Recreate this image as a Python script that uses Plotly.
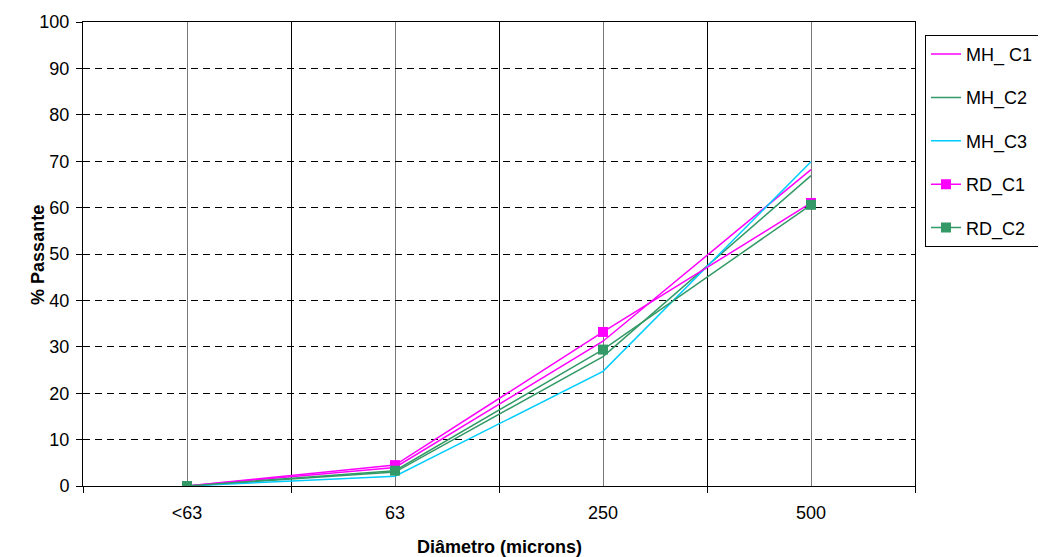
import plotly.graph_objects as go

categories = ["<63", "63", "250", "500"]
series_names = ["MH_ C1", "MH_C2", "MH_C3", "RD_C1", "RD_C2"]
mh_c1 = [0, 4.0, 31.2, 68.2]
mh_c2 = [0, 3.0, 27.9, 66.9]
mh_c3 = [0, 2.1, 24.7, 69.9]
rd_c1 = [0, 4.5, 33.2, 61.0]
rd_c2 = [0, 3.3, 29.4, 60.6]
y_ticks = list(range(0, 101, 10))
x_title = "Diâmetro (microns)"
y_title = "% Passante"

colors = ["#FF00FF", "#339966", "#00CCFF", "#FF00FF", "#339966"]
markers = [False, False, False, True, True]
values = [mh_c1, mh_c2, mh_c3, rd_c1, rd_c2]

xpos = list(range(len(categories)))
fig = go.Figure()
for i, (name, vals) in enumerate(zip(series_names, values)):
    fig.add_trace(go.Scatter(
        x=xpos, y=vals, name=name, legendgroup=name,
        mode="lines+markers" if markers[i] else "lines",
        line=dict(color=colors[i], width=1.5),
        marker=dict(symbol="square", size=10, color=colors[i]) if markers[i] else None,
    ))

font_family = "Liberation Sans, Arial, sans-serif"
fig.update_layout(
    width=1046, height=557,
    margin=dict(l=75, r=139, t=14, b=79),
    paper_bgcolor="white", plot_bgcolor="white",
    font=dict(family=font_family, size=18, color="black"),
    showlegend=True,
    legend=dict(
        x=1.0120, y=0.9724, xanchor="left", yanchor="top",
        bordercolor="black", borderwidth=1, bgcolor="white",
        font=dict(size=18), tracegroupgap=17, itemwidth=30,
        traceorder="grouped",
    ),
    annotations=[
        dict(text="<b>" + x_title + "</b>", xref="paper", yref="paper",
             x=0.5, y=-0.1315, xanchor="center", yanchor="middle",
             showarrow=False, font=dict(size=18)),
        dict(text="<b>" + y_title + "</b>", xref="paper", yref="paper",
             x=-0.0541, y=0.498, xanchor="center", yanchor="middle",
             textangle=-90, showarrow=False, font=dict(size=18)),
    ],
)
fig.update_xaxes(
    automargin=False,
    range=[-0.5, len(categories) - 0.5],
    tickmode="array", tickvals=xpos, ticktext=categories,
    ticks="", showgrid=True, gridcolor="#777777", gridwidth=1,
    showline=True, linecolor="black", linewidth=1, mirror=True,
    zeroline=False, ticklabelstandoff=10,
    minor=dict(tickvals=[v - 0.5 for v in range(len(categories) + 1)],
               ticks="outside", ticklen=6, tickcolor="black",
               showgrid=True, gridcolor="black", gridwidth=1),
    tickfont=dict(size=18),
)
fig.update_yaxes(
    automargin=False,
    range=[0, 100], tickmode="array", tickvals=y_ticks,
    ticks="outside", ticklen=6, tickcolor="black",
    showgrid=True, gridcolor="black", gridwidth=1, griddash="7px,5px",
    showline=True, linecolor="black", linewidth=1, mirror=True,
    zeroline=False, ticklabelstandoff=3,
    tickfont=dict(size=18),
)
fig.write_html("out.html")
